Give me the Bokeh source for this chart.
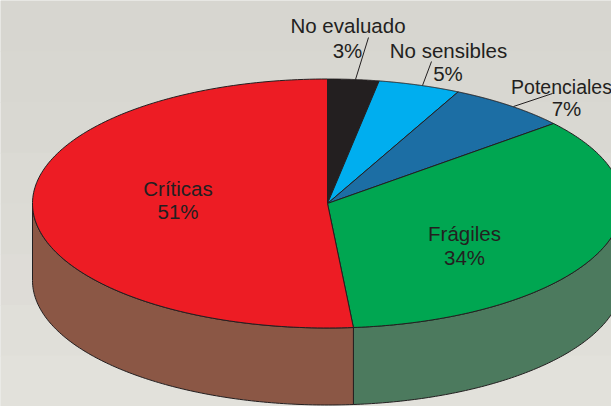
import numpy as np
from bokeh.plotting import figure
from bokeh.models import Range1d
from bokeh.core.properties import value
from bokeh.embed import file_html
from bokeh.resources import INLINE

# Categories clockwise from 12 o'clock
categories = ["No evaluado", "No sensibles", "Potenciales", "Frágiles", "Críticas"]
labels_pct = ["3%", "5%", "7%", "34%", "51%"]
# Slice shares
shares = [2.8, 4.5, 6.6, 34.7, 51.4]
top_colors = ["#231f20", "#00aeef", "#1c6ea4", "#00a651", "#ed1c24"]
side_colors = ["#231f20", "#00aeef", "#1c6ea4", "#4c7a5e", "#8b5745"]
ink = "#231f20"

label_x = [347.5, 448, 561, 464, 177.5]
label_y = [25, 49.5, 86, 233, 187.5]
name_sizes = ["20.5px", "20.5px", "19.5px", "20.5px", "20.5px"]
pct_x = [347, 447.5, 566, 464, 177.5]
pct_y = [49.5, 73, 107.5, 256.5, 211]
leader_xs = [[368, 355], [431, 422], [552, 513]]
leader_ys = [[37, 79], [61, 85], [93, 106]]

W, H = 611, 406
cx, cy, rx, ry, depth = 327, 203, 295, 124.5, 77

p = figure(width=W, height=H, output_backend="svg", toolbar_location=None,
           x_range=Range1d(0, W), y_range=Range1d(H, 0),
           min_border=0)
p.axis.visible = False
p.grid.visible = False
p.outline_line_color = None
p.background_fill_color = "#dcdbd5"
p.border_fill_color = "#dcdbd5"

# soft paper backdrop, darker at the top
bands = ["#d7d6d0", "#d8d7d1", "#d9d8d2", "#dbdad4", "#dcdbd5", "#dedcd7", "#e0dfd9", "#e2e1db"]
bh = H / len(bands)
p.quad(left=0, right=W, top=[i * bh for i in range(len(bands))],
       bottom=[(i + 1) * bh + 1 for i in range(len(bands))], fill_color=bands, line_color=None)

def pt(t):
    return cx + rx * np.sin(t), cy - ry * np.cos(t)

edges = np.radians(np.cumsum([0] + shares) * 3.6)

# front wall
for a, b, col in zip(edges[:-1], edges[1:], side_colors):
    lo, hi = max(a, np.pi / 2), min(b, 3 * np.pi / 2)
    if hi <= lo:
        continue
    t = np.linspace(lo, hi, 120)
    x, y = pt(t)
    p.patch(np.r_[x, x[::-1]], np.r_[y, y[::-1] + depth], fill_color=col,
            line_color=ink, line_width=1)

# top face
for a, b, col in zip(edges[:-1], edges[1:], top_colors):
    t = np.linspace(a, b, 160)
    x, y = pt(t)
    p.patch(np.r_[cx, x], np.r_[cy, y], fill_color=col, line_color=ink, line_width=1)

p.multi_line(leader_xs, leader_ys, line_color=ink, line_width=1)

font = value("Liberation Sans")
p.text(label_x, label_y, text=categories, text_font=font, text_font_size=name_sizes,
       text_color=ink, text_align="center", text_baseline="middle")
p.text(pct_x, pct_y, text=labels_pct, text_font=font, text_font_size="20.5px",
       text_color=ink, text_align="center", text_baseline="middle")

open("out.html", "w").write(file_html(p, INLINE))
